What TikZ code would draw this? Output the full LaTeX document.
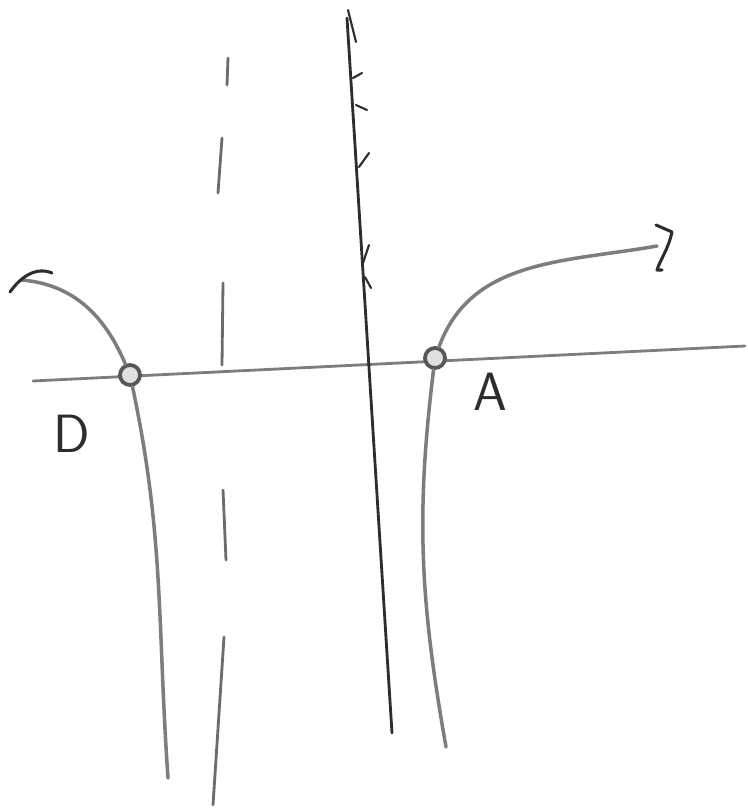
\documentclass[tikz,border=0pt]{standalone}
\usepackage{xcolor}
\usepackage{tikz}
\usetikzlibrary{positioning}
\definecolor{SketchGray}{RGB}{125,125,125}
\definecolor{SketchDark}{RGB}{45,45,45}
\tikzset{
  curve/.style={draw=SketchGray, line width=3pt, line cap=round},
  axisline/.style={draw=SketchGray, line width=2.4pt, line cap=round},
  yline/.style={draw=SketchDark, line width=2.4pt, line cap=round},
  dashpiece/.style={draw=SketchDark!70, line width=2.4pt, line cap=round},
  tipmark/.style={draw=SketchDark, line width=2.6pt, line cap=round, line join=round},
  hole/.style={circle, draw=SketchDark!80, line width=3.2pt, fill=SketchGray!25, minimum size=0.6cm, inner sep=0pt},
  ptlabel/.style={font=\sffamily\fontsize{46}{50}\selectfont, text=SketchDark}
}
\begin{document}
\begin{tikzpicture}[x=0.03cm,y=0.03cm]
  \useasboundingbox (0,0) rectangle (747,-808);
  % axes
  \coordinate (xl) at (33,-381);
  \coordinate (xr) at (745,-346);
  \coordinate (yt) at (347,-18);
  \coordinate (yb) at (392,-733);
  \draw[axisline] (xl) -- (xr);
  \draw[yline] (yt) -- (yb);
  \foreach \ax/\ay/\bx/\by in {353/78/362/73, 356/105/367/110, 359/167/369/153,
                               363/263/369/245, 365/277/371/288, 348/10/356/42} {
    \draw[yline, line width=1.8pt] (\ax,-\ay) -- (\bx,-\by);
  }
  % asymptote
  \foreach \ax/\ay/\bx/\by in {228/58/227/85, 222/138/218/193, 223/283/222/365,
                               223/490/226/560, 224/637/213/805} {
    \draw[dashpiece] (\ax,-\ay) -- (\bx,-\by);
  }
  % holes and labels
  \node[hole] (D) at (130,-375) {};
  \node[hole] (A) at (435,-358) {};
  \node[ptlabel] (Dlabel) at (72,-434) {D};
  \node[ptlabel] (Alabel) at (490,-392) {A};
  % branches
  \coordinate (lt) at (22,-280);
  \coordinate (lb) at (168,-778);
  \coordinate (rt) at (657,-246);
  \coordinate (rb) at (446,-747);
  \draw[curve] (lt) to[out=-5,in=113] (D);
  \draw[curve] (D) to[out=-78,in=94] (lb);
  \draw[curve] (A) to[out=70,in=190] (rt);
  \draw[curve] (A) to[out=-97,in=100] (rb);
  % end marks
  \draw[tipmark] (10,-292) .. controls (20,-278) and (35,-266) .. (52,-273);
  \draw[tipmark] (656,-225) -- (672,-232) .. controls (668,-250) and (660,-260) .. (657,-270) -- (662,-270);
\end{tikzpicture}
\end{document}
